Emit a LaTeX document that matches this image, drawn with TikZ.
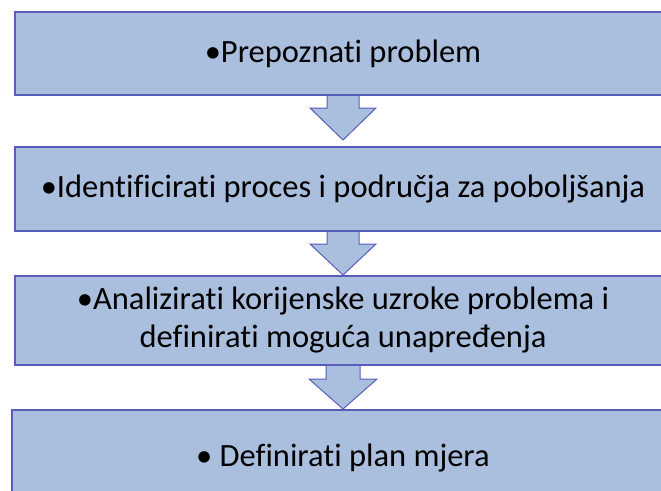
\documentclass[tikz,border=0pt]{standalone}
\usepackage{fontspec}
\setmainfont{Carlito}[Ligatures=NoCommon]
\usetikzlibrary{calc,backgrounds}
\definecolor{boxfill}{RGB}{170,191,222}
\definecolor{boxline}{RGB}{88,92,186}
\begin{document}
\begin{tikzpicture}[x=1pt,y=-1pt,
  stepbox/.style={draw=boxline, fill=boxfill, line width=1.3pt, anchor=north west,
    inner sep=0pt, outer sep=0pt, minimum width=656pt, align=center,
    font=\fontsize{32.5}{38}\selectfont},
  downarrow/.style={draw=boxline, fill=boxfill, line width=1pt, line join=miter}]
\useasboundingbox (0,0) rectangle (661,490);
\node[stepbox, minimum height=83pt] (b1) at (15,12) {•Prepoznati problem};
\node[stepbox, minimum height=84pt] (b2) at (15,147) {•Identificirati proces i područja za poboljšanja};
\node[stepbox, minimum height=89pt] (b3) at (15,276) {•Analizirati korijenske uzroke problema i\\definirati moguća unapređenja};
\node[stepbox, minimum height=95pt, minimum width=662pt] (b4) at (12,410) {• Definirati plan mjera};
\begin{scope}[on background layer]
  \coordinate (t1) at ($(b2.north)+(0,-7)$);
  \coordinate (t2) at ($(b3.north)+(0,-1)$);
  \coordinate (t3) at ($(b4.north)+(0,-1)$);
  \draw[downarrow] ($(b1.south)+(-16,-2)$) -- ++(0,15) -- ++(-17,0) -- (t1) -- ($(b1.south)+(33,13)$) -- ++(-17,0) -- ++(0,-15) -- cycle;
  \draw[downarrow] ($(b2.south)+(-16,-2)$) -- ++(0,15) -- ++(-17,0) -- (t2) -- ($(b2.south)+(33,13)$) -- ++(-17,0) -- ++(0,-15) -- cycle;
  \draw[downarrow] ($(b3.south)+(-17,-2)$) -- ++(0,16) -- ++(-17,0) -- (t3) -- ($(b3.south)+(34,14)$) -- ++(-17,0) -- ++(0,-16) -- cycle;
\end{scope}
\end{tikzpicture}
\end{document}
